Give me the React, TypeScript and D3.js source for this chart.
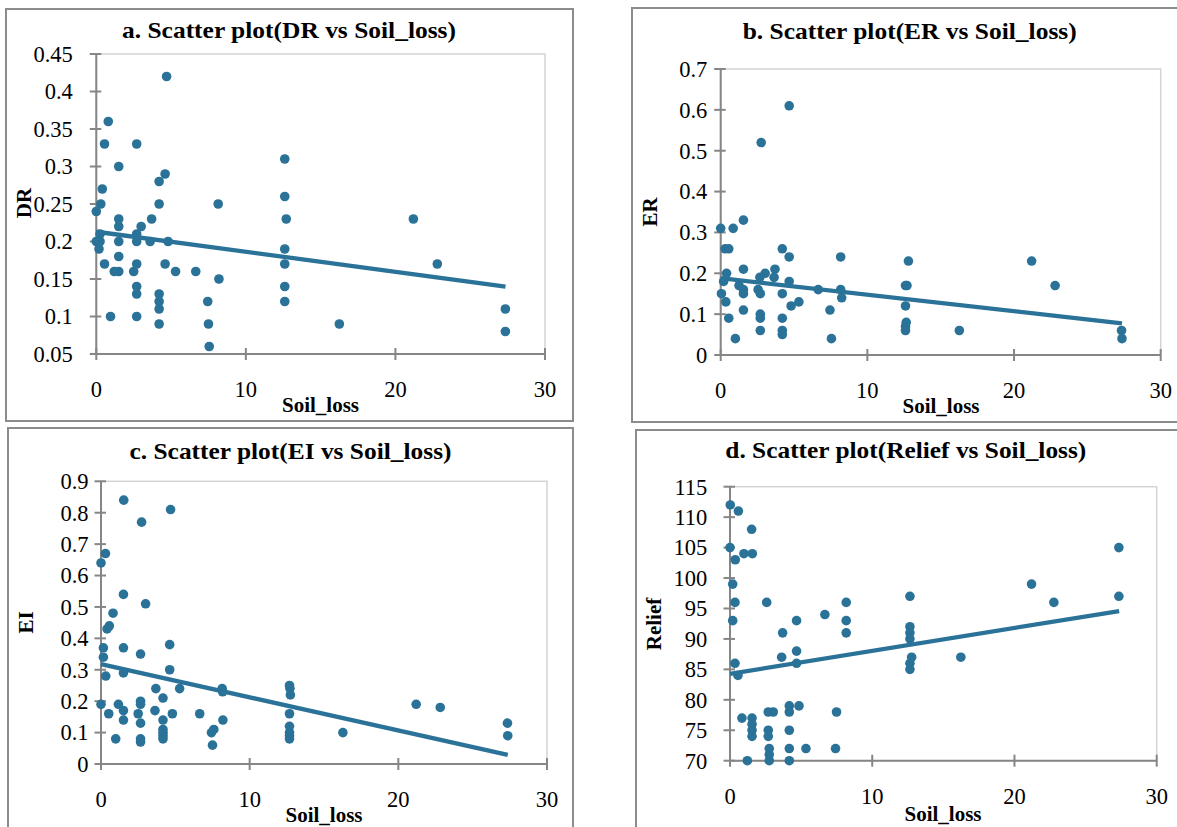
import React from "react";
import * as d3 from "d3";

// ---------- DATA ----------
const xTicks = [0, 10, 20, 30];

// a. DR vs Soil_loss
const drSoilLoss = [4.7, 0.8, 0.55, 2.7, 1.5, 4.6, 4.2, 0.4, 0.3, 4.2, 8.15, 0, 1.5, 3.7, 1.5, 3.0, 2.7, 0.25, 0, 0.25, 0.18, 1.5, 2.7, 3.6, 4.8, 0.55, 1.5, 2.7, 4.6, 1.2, 1.5, 2.5, 5.3, 6.65, 8.2, 2.7, 2.7, 4.2, 4.2, 7.45, 4.2, 0.95, 2.7, 4.2, 7.5, 7.55, 12.6, 12.6, 12.7, 12.6, 12.6, 12.6, 12.6, 16.25, 21.2, 22.8, 27.35, 27.35];
const drValues = [0.42, 0.36, 0.33, 0.33, 0.3, 0.29, 0.28, 0.27, 0.25, 0.25, 0.25, 0.24, 0.23, 0.23, 0.22, 0.22, 0.21, 0.21, 0.2, 0.2, 0.19, 0.2, 0.2, 0.2, 0.2, 0.17, 0.18, 0.17, 0.17, 0.16, 0.16, 0.16, 0.16, 0.16, 0.15, 0.14, 0.13, 0.13, 0.12, 0.12, 0.11, 0.1, 0.1, 0.09, 0.09, 0.06, 0.31, 0.26, 0.23, 0.19, 0.17, 0.14, 0.12, 0.09, 0.23, 0.17, 0.11, 0.08];
const drTicks = [0.05, 0.1, 0.15, 0.2, 0.25, 0.3, 0.35, 0.4, 0.45];
const drTrend = [0.213, -0.00267];

// b. ER vs Soil_loss
const erSoilLoss = [4.67, 2.76, 0, 0.85, 1.55, 0.3, 0.55, 4.2, 4.67, 8.18, 0.4, 0.2, 1.55, 3.03, 3.7, 2.67, 3.64, 4.67, 1.25, 1.55, 1.55, 2.55, 2.7, 4.2, 6.65, 8.18, 8.25, 0.05, 0.35, 5.33, 4.8, 1.55, 7.45, 2.7, 2.7, 0.55, 4.2, 2.7, 4.2, 4.2, 1.0, 7.55, 12.8, 12.6, 12.7, 12.6, 12.65, 12.6, 12.6, 16.27, 21.2, 22.8, 27.33, 27.36];
const erValues = [0.61, 0.52, 0.31, 0.31, 0.33, 0.26, 0.26, 0.26, 0.24, 0.24, 0.2, 0.18, 0.21, 0.2, 0.21, 0.19, 0.19, 0.18, 0.17, 0.16, 0.15, 0.16, 0.15, 0.15, 0.16, 0.16, 0.14, 0.15, 0.13, 0.13, 0.12, 0.11, 0.11, 0.1, 0.09, 0.09, 0.09, 0.06, 0.06, 0.05, 0.04, 0.04, 0.23, 0.17, 0.17, 0.12, 0.08, 0.07, 0.06, 0.06, 0.23, 0.17, 0.06, 0.04];
const erTicks = [0, 0.1, 0.2, 0.3, 0.4, 0.5, 0.6, 0.7];
const erTrend = [0.188, -0.00404];

// c. EI vs Soil_loss
const eiSoilLoss = [1.53, 4.68, 2.73, 0.3, 0, 1.51, 3.0, 0.81, 0.56, 0.41, 0.16, 1.51, 4.62, 2.66, 0.16, 0.32, 1.51, 4.62, 3.69, 5.29, 4.17, 8.15, 8.18, 0, 1.17, 1.51, 2.66, 2.66, 0.52, 2.5, 3.63, 4.8, 6.64, 1.51, 2.66, 4.17, 8.2, 4.17, 4.17, 4.17, 4.17, 7.59, 7.43, 7.5, 0.99, 2.66, 2.66, 12.68, 12.71, 12.74, 12.68, 12.68, 12.68, 12.68, 12.68, 16.27, 21.2, 22.82, 27.34, 27.36];
const eiValues = [0.84, 0.81, 0.77, 0.67, 0.64, 0.54, 0.51, 0.48, 0.44, 0.43, 0.37, 0.37, 0.38, 0.35, 0.34, 0.28, 0.29, 0.3, 0.24, 0.24, 0.21, 0.24, 0.23, 0.19, 0.19, 0.17, 0.2, 0.19, 0.16, 0.16, 0.17, 0.16, 0.16, 0.14, 0.13, 0.14, 0.14, 0.11, 0.1, 0.09, 0.08, 0.11, 0.1, 0.06, 0.08, 0.08, 0.07, 0.25, 0.24, 0.22, 0.16, 0.12, 0.1, 0.09, 0.08, 0.1, 0.19, 0.18, 0.13, 0.09];
const eiTicks = [0, 0.1, 0.2, 0.3, 0.4, 0.5, 0.6, 0.7, 0.8, 0.9];
const eiTrend = [0.318, -0.01057];

// d. Relief vs Soil_loss
const reliefSoilLoss = [0.02, 0.59, 1.52, 0, 0.98, 1.57, 0.37, 0.19, 0.35, 2.58, 0.19, 4.68, 6.67, 8.17, 8.17, 8.17, 3.7, 4.68, 3.63, 4.68, 0.35, 0.56, 0.84, 1.55, 1.55, 1.55, 1.55, 2.69, 3.04, 2.69, 2.69, 4.17, 4.17, 4.85, 4.17, 7.49, 1.22, 2.76, 2.76, 2.76, 4.17, 4.17, 5.34, 7.42, 12.65, 12.65, 12.65, 12.65, 12.77, 12.65, 12.65, 16.23, 21.2, 22.77, 27.34, 27.34];
const reliefValues = [112, 111, 108, 105, 104, 104, 103, 99, 96, 96, 93, 93, 94, 96, 93, 91, 91, 88, 87, 86, 86, 84, 77, 77, 76, 75, 74, 78, 78, 75, 74, 79, 78, 79, 75, 78, 70, 72, 71, 70, 72, 70, 72, 72, 97, 92, 91, 90, 87, 86, 85, 87, 99, 96, 105, 97];
const reliefTicks = [70, 75, 80, 85, 90, 95, 100, 105, 110, 115];
const reliefTrend = [84.27, 0.377];

const trendEnd = 27.36;

// ---------- STYLE ----------
const C = "#2a7298";
const AX = "#868686";
const FONT = "'Times New Roman', 'Liberation Serif', serif";

type PanelSpec = {
  title: string;
  yTitle: string;
  xs: number[];
  ys: number[];
  yTicks: number[];
  trend: number[];
  border: [number, number, number, number];
  px: [number, number];
  py: [number, number];
  yLabelGap: number;
  titlePos: [number, number];
  titleWidth: number;
  yTitlePos: [number, number];
  xTitlePos: [number, number];
  xTickBase: number;
};

const panels: PanelSpec[] = [
  {
    title: "a. Scatter plot(DR vs Soil_loss)", yTitle: "DR",
    xs: drSoilLoss, ys: drValues, yTicks: drTicks, trend: drTrend,
    border: [6, 9, 573, 421], px: [96.3, 545], py: [354, 54], yLabelGap: 23.5,
    titlePos: [289, 38], titleWidth: 334, yTitlePos: [24, 203], xTitlePos: [320.5, 412], xTickBase: 397,
  },
  {
    title: "b. Scatter plot(ER vs Soil_loss)", yTitle: "ER",
    xs: erSoilLoss, ys: erValues, yTicks: erTicks, trend: erTrend,
    border: [632, 8, 1195, 422], px: [720.7, 1160.7], py: [355, 69], yLabelGap: 13.4,
    titlePos: [909.7, 39], titleWidth: 334, yTitlePos: [650, 212], xTitlePos: [941, 413], xTickBase: 398,
  },
  {
    title: "c. Scatter plot(EI vs Soil_loss)", yTitle: "EI",
    xs: eiSoilLoss, ys: eiValues, yTicks: eiTicks, trend: eiTrend,
    border: [8, 428, 573, 840], px: [101, 547], py: [764, 481.3], yLabelGap: 12.5,
    titlePos: [290.5, 459], titleWidth: 322, yTitlePos: [25.5, 622.5], xTitlePos: [324, 821.5], xTickBase: 806.5,
  },
  {
    title: "d. Scatter plot(Relief vs Soil_loss)", yTitle: "Relief",
    xs: reliefSoilLoss, ys: reliefValues, yTicks: reliefTicks, trend: reliefTrend,
    border: [636, 430, 1195, 840], px: [730, 1156.7], py: [760.7, 486.7], yLabelGap: 22.7,
    titlePos: [905.8, 458.3], titleWidth: 361, yTitlePos: [654, 624], xTitlePos: [943, 820.5], xTickBase: 804,
  },
];

function Panel({ p }: { p: PanelSpec }) {
  const x = d3.scaleLinear().domain([0, 30]).range(p.px);
  const y = d3
    .scaleLinear()
    .domain([p.yTicks[0], p.yTicks[p.yTicks.length - 1]])
    .range(p.py);
  const [bx0, by0, bx1, by1] = p.border;
  const trendLine = d3
    .line<number>()
    .x((d) => x(d))
    .y((d) => y(p.trend[0] + p.trend[1] * d))([0, trendEnd]);
  const x0 = x(0);
  const yb = p.py[0];
  const yt = p.py[1];
  const xr = x(30);
  return (
    <g>
      <rect x={bx0} y={by0} width={bx1 - bx0} height={by1 - by0} fill="#fff" stroke="#8c8c8c" strokeWidth={2} />
      <rect x={x0} y={yt} width={xr - x0} height={yb - yt} fill="none" stroke="#d4d4d4" strokeWidth={1.5} />
      <line x1={x0} x2={x0} y1={yt} y2={yb} stroke={AX} strokeWidth={2} />
      <line x1={x0} x2={xr} y1={yb} y2={yb} stroke={AX} strokeWidth={2} />
      {p.yTicks.map((t) => (
        <g key={"y" + t}>
          <line x1={x0 - 6.5} x2={x0 + 5} y1={y(t)} y2={y(t)} stroke={AX} strokeWidth={2} />
          <text x={x0 - p.yLabelGap} y={y(t)} dy="0.35em" textAnchor="end" fontFamily={FONT} fontSize={22.5} fill="#000">
            {String(t)}
          </text>
        </g>
      ))}
      {xTicks.map((t) => (
        <g key={"x" + t}>
          <line x1={x(t)} x2={x(t)} y1={yb - 6} y2={yb + 6} stroke={AX} strokeWidth={2} />
          <text x={x(t)} y={p.xTickBase} textAnchor="middle" fontFamily={FONT} fontSize={22.5} fill="#000">
            {String(t)}
          </text>
        </g>
      ))}
      {p.xs.map((v, i) => (
        <circle key={i} cx={x(v)} cy={y(p.ys[i])} r={4.8} fill={C} />
      ))}
      <path d={trendLine || ""} stroke={C} strokeWidth={4.3} fill="none" />
      <text
        x={p.titlePos[0]}
        y={p.titlePos[1]}
        textAnchor="middle"
        fontFamily={FONT}
        fontWeight="bold"
        fontSize={23}
        textLength={p.titleWidth}
        lengthAdjust="spacingAndGlyphs"
        fill="#000"
      >
        {p.title}
      </text>
      <text x={p.xTitlePos[0]} y={p.xTitlePos[1]} textAnchor="middle" fontFamily={FONT} fontWeight="bold" fontSize={21} fill="#000">
        Soil_loss
      </text>
      <text
        transform={`translate(${p.yTitlePos[0]},${p.yTitlePos[1]}) rotate(-90)`}
        textAnchor="middle"
        dy="0.35em"
        fontFamily={FONT}
        fontWeight="bold"
        fontSize={21}
        fill="#000"
      >
        {p.yTitle}
      </text>
    </g>
  );
}

export default function App() {
  return (
    <svg
      width={1177}
      height={827}
      style={{ position: "absolute", left: 0, top: 0, background: "#fff" }}
    >
      <rect x={0} y={0} width={1177} height={827} fill="#fff" />
      {panels.map((p, i) => (
        <Panel key={i} p={p} />
      ))}
    </svg>
  );
}
